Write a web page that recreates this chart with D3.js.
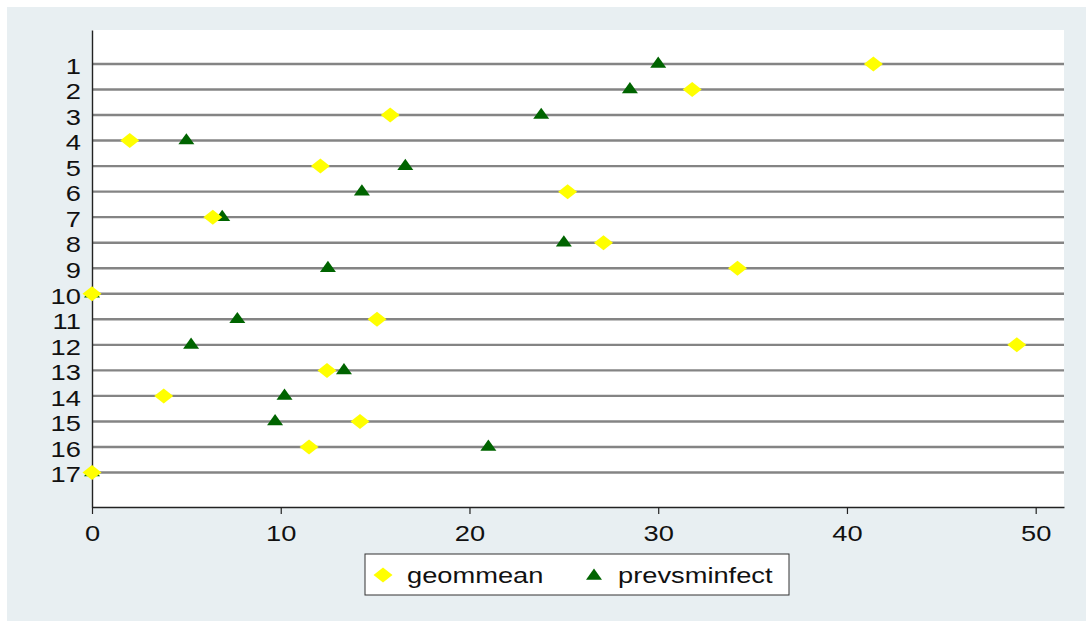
<!DOCTYPE html>
<html>
<head>
<meta charset="utf-8">
<script src="https://cdn.jsdelivr.net/npm/d3@7"></script>
<style>
  body { margin: 0; background: #fff; }
  text { font-family: "Liberation Sans", Arial, sans-serif; fill: #111; }
</style>
</head>
<body>
<div id="chart"></div>
<script>
// rows 1..17, values
const rows = d3.range(1, 18);
const geommean = [41.4, 31.8, 15.8, 2.0, 12.1, 25.2, 6.4, 27.1, 34.2, 0, 15.1, 49.0, 12.45, 3.8, 14.2, 11.5, 0];
const prevsminfect = [30.0, 28.5, 23.8, 5.0, 16.6, 14.3, 6.9, 25.0, 12.5, 0, 7.7, 5.25, 13.35, 10.2, 9.7, 21.0, 0];
const xTicks = [0, 10, 20, 30, 40, 50];
const seriesNames = ['geommean', 'prevsminfect'];

const W = 1086, H = 621;
const plot = { left: 92, right: 1064, top: 30, bottom: 507 };
const stretch = 1.24; // glyphs in the picture are drawn wide
const fontSize = 22;

const svg = d3.select('#chart').append('svg')
  .attr('width', W)
  .attr('height', H);

// outer graph region
svg.append('rect')
  .attr('x', 7).attr('y', 7)
  .attr('width', W - 7).attr('height', H - 7)
  .attr('fill', '#e8eff2');

svg.append('rect')
  .attr('x', plot.left).attr('y', plot.top)
  .attr('width', plot.right - plot.left).attr('height', plot.bottom - plot.top)
  .attr('fill', '#fff');

const x = d3.scaleLinear().domain([0, 51.5]).range([plot.left, plot.right]);
const y = d3.scaleLinear().domain([-0.33, 18.35]).range([plot.top, plot.bottom]);

// row lines
svg.append('g')
  .selectAll('line')
  .data(rows)
  .join('line')
  .attr('x1', plot.left).attr('x2', plot.right)
  .attr('y1', d => y(d)).attr('y2', d => y(d))
  .attr('stroke', '#848484')
  .attr('stroke-width', 2.4);

// x axis
const xAxis = svg.append('g')
  .attr('transform', `translate(0,${plot.bottom})`)
  .call(d3.axisBottom(x).tickValues(xTicks).tickSize(7).tickPadding(11).tickSizeOuter(0));
xAxis.select('.domain').attr('stroke', '#222').attr('stroke-width', 1.4);
xAxis.selectAll('.tick line').attr('stroke', '#222').attr('stroke-width', 1.2);
xAxis.selectAll('.tick text')
  .attr('font-size', fontSize)
  .attr('transform', `scale(${stretch},1)`)
  .style('font-family', '"Liberation Sans", Arial, sans-serif')
  .attr('fill', '#111');

// y axis: labels only, no ticks
const yAxis = svg.append('g')
  .attr('transform', `translate(${plot.left},0)`)
  .call(d3.axisLeft(y).tickValues(rows).tickSize(0).tickPadding(9).tickSizeOuter(0).tickFormat(d3.format('d')));
yAxis.select('.domain').attr('stroke', '#222').attr('stroke-width', 1.4);
yAxis.selectAll('.tick text')
  .attr('font-size', fontSize)
  .attr('dy', '0.42em')
  .attr('transform', `scale(${stretch},1)`)
  .style('font-family', '"Liberation Sans", Arial, sans-serif')
  .attr('fill', '#111');

const diamond = 'M0,-7.5L9.5,0L0,7.5L-9.5,0Z';
const triangle = 'M0,-7.4L8,3.8L-8,3.8Z';

// triangles first so diamonds sit on top
svg.append('g')
  .selectAll('path')
  .data(rows)
  .join('path')
  .attr('d', triangle)
  .attr('transform', (d, i) => `translate(${x(prevsminfect[i])},${y(d)})`)
  .attr('fill', '#006400');

svg.append('g')
  .selectAll('path')
  .data(rows)
  .join('path')
  .attr('d', diamond)
  .attr('transform', (d, i) => `translate(${x(geommean[i])},${y(d)})`)
  .attr('fill', '#ffff00');

// legend
const legend = svg.append('g');
legend.append('rect')
  .attr('x', 365).attr('y', 554)
  .attr('width', 424).attr('height', 41)
  .attr('fill', '#fff')
  .attr('stroke', '#333')
  .attr('stroke-width', 1);

const items = [
  { name: seriesNames[0], shape: diamond, color: '#ffff00', mx: 383, my: 575 },
  { name: seriesNames[1], shape: triangle, color: '#006400', mx: 594, my: 576 }
];
items.forEach(it => {
  legend.append('path')
    .attr('d', it.shape)
    .attr('transform', `translate(${it.mx},${it.my})`)
    .attr('fill', it.color);
  legend.append('text')
    .attr('transform', `translate(${it.mx + 24},583) scale(${stretch},1)`)
    .attr('font-size', fontSize)
    .text(it.name);
});
</script>
</body>
</html>
